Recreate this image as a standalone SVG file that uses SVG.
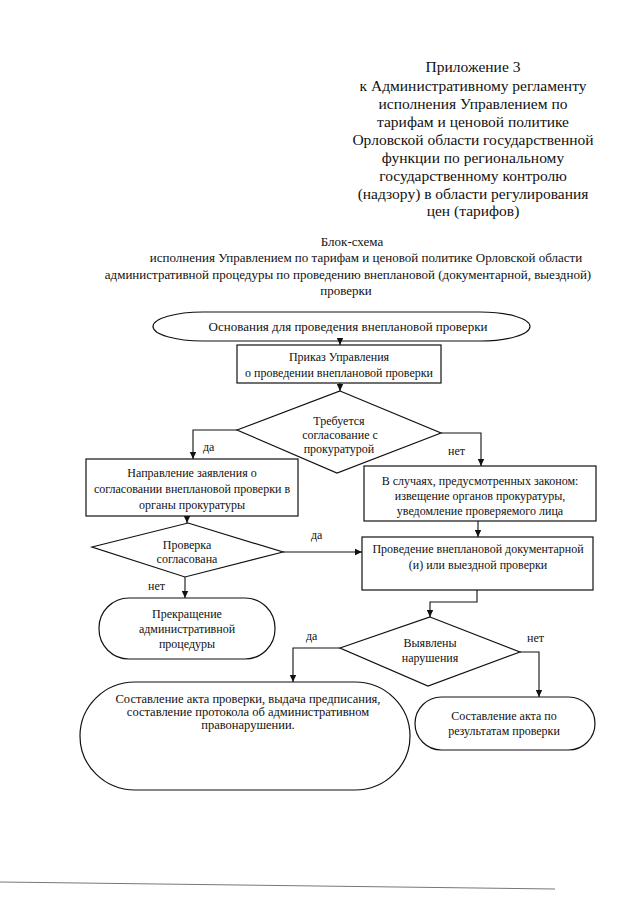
<svg xmlns="http://www.w3.org/2000/svg" width="639" height="905" viewBox="0 0 639 905" font-family="Liberation Serif, Times New Roman, serif">
<defs>
<marker id="arr" markerWidth="8" markerHeight="8" refX="7" refY="4" orient="auto" markerUnits="userSpaceOnUse">
<path d="M0,0.8 L7,4 L0,7.2 z" fill="#111"/>
</marker>
<style>
text{font-family:'Liberation Serif','Times New Roman',serif;fill:#111;}
.hdr{font-size:15.5px;text-anchor:middle;}
.ttl{font-size:13px;text-anchor:middle;}
.n{font-size:12px;text-anchor:middle;}
.lb{font-size:12px;}
.shape{fill:#fff;stroke:#111;stroke-width:1.2;}
.conn path{fill:none;stroke:#111;stroke-width:1.1;marker-end:url(#arr);}
</style>
</defs>
<rect width="639" height="905" fill="#fff"/>
<g id="header">
<text class="hdr" x="473" y="72">Приложение 3</text>
<text class="hdr" x="473" y="91">к Административному регламенту</text>
<text class="hdr" x="473" y="109">исполнения Управлением по</text>
<text class="hdr" x="473" y="127">тарифам и ценовой политике</text>
<text class="hdr" x="473" y="145">Орловской области государственной</text>
<text class="hdr" x="473" y="163">функции по региональному</text>
<text class="hdr" x="473" y="181">государственному контролю</text>
<text class="hdr" x="473" y="199">(надзору) в области регулирования</text>
<text class="hdr" x="473" y="216">цен (тарифов)</text>
</g>
<g id="title">
<text class="ttl" x="352" y="246">Блок-схема</text>
<text class="ttl" x="366" y="262">исполнения Управлением по тарифам и ценовой политике Орловской области</text>
<text class="ttl" x="348" y="279">административной процедуры по проведению внеплановой (документарной, выездной)</text>
<text class="ttl" x="346" y="295">проверки</text>
</g>
<g id="start">
<rect class="shape" x="153" y="312" width="377" height="29" rx="50" ry="14.5"/>
<text class="n" x="348" y="331" style="font-size:13px">Основания для проведения внеплановой проверки</text>
</g>
<g id="order">
<rect class="shape" x="237" y="345" width="204" height="38"/>
<text class="n" x="339" y="361">Приказ Управления</text>
<text class="n" x="339" y="377">о проведении внеплановой проверки</text>
</g>
<g id="d1">
<polygon class="shape" points="340,391 441,433 337,473 237,430"/>
<text class="n" x="339" y="425">Требуется</text>
<text class="n" x="340" y="439">согласование с</text>
<text class="n" x="339" y="453">прокуратурой</text>
</g>
<g id="appl">
<rect class="shape" x="86" y="459" width="212" height="57"/>
<text class="n" x="192" y="477">Направление заявления о</text>
<text class="n" x="192" y="493">согласовании внеплановой проверки в</text>
<text class="n" x="192" y="509">органы прокуратуры</text>
</g>
<g id="notify">
<rect class="shape" x="364" y="466" width="232" height="55"/>
<text class="n" x="480" y="485">В случаях, предусмотренных законом:</text>
<text class="n" x="480" y="500">извещение органов прокуратуры,</text>
<text class="n" x="480" y="515">уведомление проверяемого лица</text>
</g>
<g id="d2">
<polygon class="shape" points="188,523 283,552 185,577 92,547"/>
<text class="n" x="187" y="549">Проверка</text>
<text class="n" x="187" y="563">согласована</text>
</g>
<g id="inspect">
<rect class="shape" x="362" y="537" width="231" height="53"/>
<text class="n" x="478" y="553">Проведение внеплановой документарной</text>
<text class="n" x="478" y="569">(и) или выездной проверки</text>
</g>
<g id="stop">
<rect class="shape" x="99" y="598" width="176" height="61" rx="30" ry="30"/>
<text class="n" x="187" y="618">Прекращение</text>
<text class="n" x="187" y="633">административной</text>
<text class="n" x="187" y="648">процедуры</text>
</g>
<g id="d3">
<polygon class="shape" points="430,617 520,652 428,686 340,648"/>
<text class="n" x="430" y="647">Выявлены</text>
<text class="n" x="430" y="662">нарушения</text>
</g>
<g id="act1">
<rect class="shape" x="80" y="682" width="330" height="108" rx="55" ry="54"/>
<text class="n" x="248" y="703" style="font-size:12.5px">Составление акта проверки, выдача предписания,</text>
<text class="n" x="248" y="716" style="font-size:12.5px">составление протокола об административном</text>
<text class="n" x="248" y="729" style="font-size:12.5px">правонарушении.</text>
</g>
<g id="act2">
<rect class="shape" x="415" y="697" width="180" height="53" rx="26.5" ry="26.5"/>
<text class="n" x="504" y="720">Составление акта по</text>
<text class="n" x="504" y="735">результатам проверки</text>
</g>
<g class="conn" id="connectors">
<path d="M340,341 L340,345"/>
<path d="M340,383 L340,391"/>
<path d="M237,430 L193,430 L193,459"/>
<path d="M441,433 L481,433 L481,466"/>
<path d="M187,516 L187,523"/>
<path d="M478,521 L478,537"/>
<path d="M283,552 L362,552"/>
<path d="M185,577 L185,598"/>
<path d="M477,590 L477,602 L430,602 L430,617"/>
<path d="M340,648 L293,648 L293,682"/>
<path d="M520,652 L539,652 L539,697"/>
</g>
<g id="labels">
<text class="lb" x="203" y="451">да</text>
<text class="lb" x="448" y="455">нет</text>
<text class="lb" x="311" y="539">да</text>
<text class="lb" x="148" y="590">нет</text>
<text class="lb" x="306" y="640">да</text>
<text class="lb" x="527" y="642">нет</text>
</g>
<line x1="0" y1="882" x2="555" y2="889" stroke="#777" stroke-width="1"/>
</svg>
